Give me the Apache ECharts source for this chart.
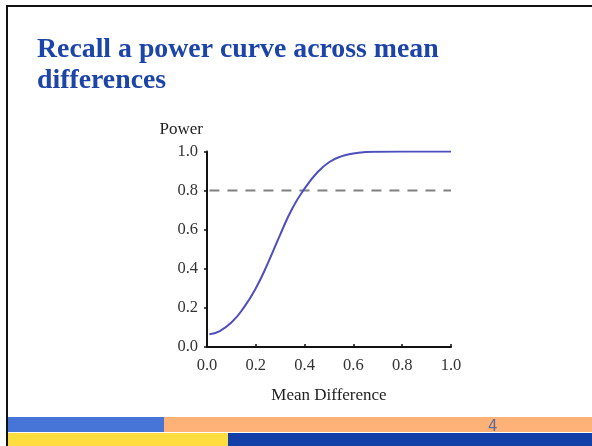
<!DOCTYPE html>
<html>
<head>
<meta charset="utf-8">
<script src="https://cdn.jsdelivr.net/npm/echarts@6/dist/echarts.min.js"></script>
<style>
  html, body { margin: 0; padding: 0; background: #fff; }
  #myChart { width: 592px; height: 446px; }
</style>
</head>
<body>
<div id="myChart"></div>
<script>
// values
const meanDiff = [0.01, 0.05, 0.10, 0.15, 0.20, 0.25, 0.30, 0.35, 0.40, 0.45, 0.50, 0.55, 0.60, 0.65, 0.70, 0.80, 0.90, 1.00];
const power    = [0.065, 0.08, 0.125, 0.20, 0.30, 0.43, 0.575, 0.71, 0.81, 0.89, 0.945, 0.975, 0.99, 0.997, 0.999, 1.0, 1.0, 1.0];
const targetPower = 0.8;
const targetRange = [0.01, 1.0];
const pageNumber = '4';

const chart = echarts.init(document.getElementById('myChart'));

const option = {
  animation: false,
  title: {
    text: 'Recall a power curve across mean\ndifferences',
    left: 32,
    top: 29,
    textStyle: {
      fontFamily: 'Liberation Serif',
      fontWeight: 'bold',
      fontSize: 27.8,
      lineHeight: 31,
      color: '#1D44A8'
    }
  },
  grid: {
    left: 207,
    right: 141,
    top: 151.5,
    bottom: 99
  },
  xAxis: {
    type: 'value',
    min: 0,
    max: 1,
    interval: 0.2,
    name: 'Mean Difference',
    nameLocation: 'middle',
    nameGap: 40,
    nameTextStyle: { fontFamily: 'Liberation Serif', fontSize: 17, color: '#222' },
    axisLine: { lineStyle: { color: '#111', width: 2 } },
    axisTick: { inside: true, length: 3, lineStyle: { color: '#111', width: 1.5 } },
    axisLabel: {
      margin: 10,
      fontFamily: 'Liberation Serif',
      fontSize: 16.5,
      color: '#333',
      formatter: v => v.toFixed(1)
    },
    splitLine: { show: false }
  },
  yAxis: {
    type: 'value',
    min: 0,
    max: 1,
    interval: 0.2,
    name: 'Power',
    nameLocation: 'end',
    nameGap: 22,
    nameTextStyle: {
      fontFamily: 'Liberation Serif',
      fontSize: 17,
      color: '#222',
      align: 'right',
      verticalAlign: 'middle',
      padding: [0, 4, 0, 0]
    },
    axisLine: { show: true, lineStyle: { color: '#111', width: 2 } },
    axisTick: { show: true, length: 3, lineStyle: { color: '#111', width: 1.5 } },
    axisLabel: {
      margin: 9,
      fontFamily: 'Liberation Serif',
      fontSize: 16.5,
      color: '#333',
      formatter: v => v.toFixed(1)
    },
    splitLine: { show: false }
  },
  series: [
    {
      // 0.8 reference line
      type: 'line',
      data: targetRange.map(x => [x, targetPower]),
      symbol: 'none',
      lineStyle: { color: '#808080', width: 2, type: [10, 8] },
      silent: true
    },
    {
      type: 'line',
      data: meanDiff.map((x, i) => [x, power[i]]),
      smooth: true,
      symbol: 'none',
      lineStyle: { color: '#4E4EC0', width: 2 }
    }
  ],
  graphic: [
    // slide frame
    { type: 'rect', shape: { x: 6, y: 5, width: 600, height: 2 }, style: { fill: '#111' } },
    { type: 'rect', shape: { x: 6, y: 5, width: 2, height: 450 }, style: { fill: '#111' } },
    // footer bars
    { type: 'rect', shape: { x: 8, y: 417, width: 156, height: 15 }, style: { fill: '#4775D7' } },
    { type: 'rect', shape: { x: 164, y: 417, width: 440, height: 15 }, style: { fill: '#FFB277' } },
    { type: 'rect', shape: { x: 8, y: 433, width: 220, height: 14 }, style: { fill: '#FFDD3F' } },
    { type: 'rect', shape: { x: 228, y: 433, width: 380, height: 14 }, style: { fill: '#123FA8' } },
    {
      type: 'text',
      left: 488,
      top: 420,
      style: { text: pageNumber, fontFamily: 'DejaVu Sans', fontSize: 15, fill: '#5B6A9A' }
    }
  ]
};

chart.setOption(option);
</script>
</body>
</html>
